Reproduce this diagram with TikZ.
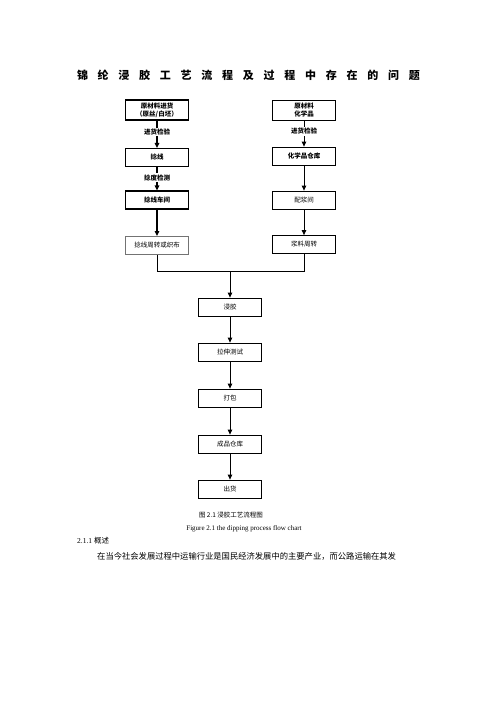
\documentclass[tikz,border=0pt]{standalone}
\usepackage{fontspec}
\setmainfont{Liberation Serif}
\newfontfamily\cjk{Noto Sans CJK SC}
\usetikzlibrary{arrows.meta}
\begin{document}
\begin{tikzpicture}[x=1pt,y=-1pt,
  box/.style={draw, line width=0.8pt, minimum width=63pt, minimum height=18pt, inner sep=0pt,
    font=\cjk\fontsize{6.5}{8}\selectfont, align=center},
  bbox/.style={box, font=\cjk\bfseries\fontsize{6.5}{8}\selectfont},
  lbox/.style={bbox, line width=1.1pt},
  lbl/.style={fill=white, inner sep=1pt, font=\cjk\bfseries\fontsize{6.5}{7}\selectfont},
  arr/.style={-{Triangle[width=4.5pt,length=5pt]}, line width=0.8pt},
  larr/.style={arr, line width=1.2pt},
  txt/.style={inner sep=0pt}]
\useasboundingbox (0,0) rectangle (496,702);
\node[txt, font=\cjk\bfseries\fontsize{11}{13}\selectfont] (title) at (248.5,75)
  {\makebox[343pt]{锦\hfill 纶\hfill 浸\hfill 胶\hfill 工\hfill 艺\hfill 流\hfill 程\hfill 及\hfill 过\hfill 程\hfill 中\hfill 存\hfill 在\hfill 的\hfill 问\hfill 题}};
% left column
\node[lbox, minimum height=20pt] (L1) at (157,110) {原材料进货\\（原丝/白坯）};
\node[lbox] (L2) at (157,157.5) {捻线};
\node[lbox] (L3) at (157,200) {捻线车间};
\node[box, draw=black!55] (L4) at (157,245.5) {捻线周转或织布};
% right column
\node[bbox, minimum height=20pt] (R1) at (304,110) {原材料\\化学品};
\node[bbox] (R2) at (304,156) {化学品仓库};
\node[box] (R3) at (304,200) {配浆间};
\node[box] (R4) at (304,244.5) {浆料周转};
% centre column
\node[box] (C1) at (230,307) {浸胶};
\node[box] (C2) at (230,352) {拉伸测试};
\node[box] (C3) at (230,398) {打包};
\node[box] (C4) at (230,444) {成品仓库};
\node[box] (C5) at (230,489) {出货};
% connectors
\draw[larr] (L1) -- (L2) node[lbl, pos=0.42] {进货检验};
\draw[larr] (L2) -- (L3) node[lbl, pos=0.45] {捻度检测};
\draw[larr] (L3) -- (L4);
\draw[arr] (R1) -- (R2) node[lbl, pos=0.42] {进货检验};
\draw[arr] (R2) -- (R3);
\draw[arr] (R3) -- (R4);
\coordinate (m) at (230,271);
\draw[line width=0.8pt] (L4.south) |- (m);
\draw[line width=0.8pt] (R4.south) |- (m);
\draw[arr] (m) -- (C1.north);
\draw[arr] (C1) -- (C2);
\draw[arr] (C2) -- (C3);
\draw[arr] (C3) -- (C4);
\draw[arr] (C4) -- (C5);
% caption and text
\node[txt, font=\cjk\fontsize{6.5}{8}\selectfont] (cap) at (231,515) {图 2.1 浸胶工艺流程图};
\node[txt, font=\fontsize{7}{8}\selectfont] (capen) at (244,529) {Figure 2.1 the dipping process flow chart};
\node[txt, anchor=west, font=\fontsize{7.5}{9}\selectfont] (sec) at (77,541) {2.1.1 {\cjk 概述}};
\node[txt, anchor=west, font=\cjk\fontsize{8.3}{10}\selectfont] (body) at (97,556) {在当今社会发展过程中运输行业是国民经济发展中的主要产业，而公路运输在其发};
\end{tikzpicture}
\end{document}
